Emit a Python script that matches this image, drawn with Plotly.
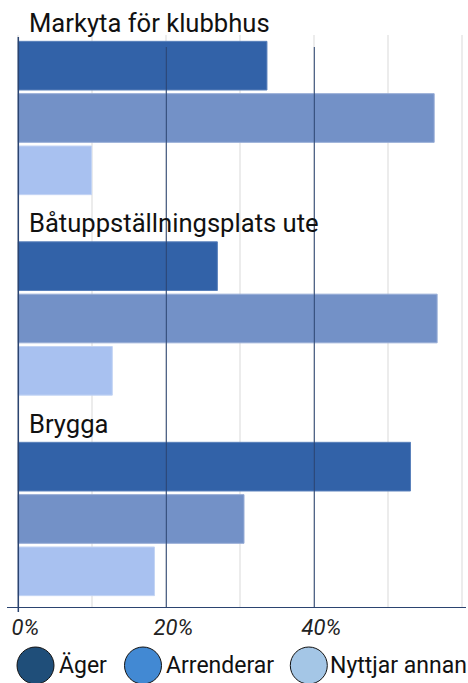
import plotly.graph_objects as go

categories = ["Markyta för klubbhus", "Båtuppställningsplats ute", "Brygga"]
series_names = ["Äger", "Arrenderar", "Nyttjar annan"]
ager = [33.6, 26.9, 53.0]
arrenderar = [56.2, 56.6, 30.5]
nyttjar = [9.9, 12.7, 18.4]
tick_vals = [0, 10, 20, 30, 40, 50, 60]
tick_text = ["0%", "", "20%", "", "40%", "", ""]

bar_colors = ["#3262A8", "#7391C7", "#A8C1F0"]
bar_edges = ["#5a81bb", "#97acd6", "#c3d4f4"]
legend_colors = ["#1F4E79", "#4289D3", "#A4C6E6"]

FONT = "Roboto"
W, H = 468, 683
ML, MR, MT, MB = 7, 2, 35, 76
PW = W - ML - MR
PH = H - MT - MB

fig = go.Figure()
for name, vals, col, edge in zip(series_names, [ager, arrenderar, nyttjar], bar_colors, bar_edges):
    fig.add_trace(go.Bar(
        y=categories, x=vals, name=name, orientation="h",
        marker=dict(color=col, line=dict(color=edge, width=1)),
        showlegend=False, hoverinfo="x+y",
    ))

# group titles
for c in categories:
    fig.add_annotation(
        x=0, y=c, xref="x", yref="y", text=c, showarrow=False,
        xanchor="left", yanchor="bottom", xshift=9, yshift=78,
        font=dict(family=FONT, size=25.6, color="#111111"),
    )

# dark vertical reference lines above bars
for v in [20, 40]:
    fig.add_shape(type="line", xref="x", yref="paper", x0=v, x1=v,
                  y0=0, y1=(H - MB - 47) / PH, layer="above",
                  line=dict(color="#2B4470", width=1))
# left axis line
fig.add_shape(type="line", xref="x", yref="paper", x0=0, x1=0,
              y0=-5 / PH, y1=(H - MB - 37) / PH, layer="above",
              line=dict(color="#2B4470", width=1.5))

# custom legend
leg_cx = [35.5, 143, 308.8]
leg_tx = [59, 166, 330]
leg_cy = 665.5
for name, col, cx, tx in zip(series_names, legend_colors, leg_cx, leg_tx):
    fig.add_shape(type="circle", xref="paper", yref="paper",
                  xsizemode="pixel", ysizemode="pixel",
                  xanchor=(cx - ML) / PW, yanchor=(H - MB - leg_cy) / PH,
                  x0=-18.5, x1=18.5, y0=-18.5, y1=18.5,
                  fillcolor=col, line=dict(color="#111111", width=1))
    fig.add_annotation(
        x=(tx - ML) / PW, y=(H - MB - leg_cy) / PH, xref="paper", yref="paper",
        text=name, showarrow=False, xanchor="left", yanchor="middle",
        xshift=-2, font=dict(family=FONT, size=23, color="#111111"),
    )

fig.update_layout(
    width=W, height=H,
    margin=dict(l=ML, r=MR, t=MT, b=MB),
    paper_bgcolor="white", plot_bgcolor="white",
    barmode="group", bargap=0.217, bargroupgap=0.07,
    showlegend=False,
    xaxis=dict(
        range=[-1.53, 60.5], tickvals=tick_vals, ticktext=tick_text,
        showgrid=True, gridcolor="#ececec", gridwidth=1.5, zeroline=False,
        showline=True, linecolor="#2B4470", linewidth=1.2,
        ticks="", ticklabelshift=7,
        tickfont=dict(family=FONT, size=22, color="#222222", style="italic"),
    ),
    yaxis=dict(
        type="category", categoryorder="array", categoryarray=categories,
        range=[2.439, -0.414], showticklabels=False, showgrid=False,
        zeroline=False, showline=False, ticks="",
    ),
)

fig.write_html(
    "out.html",
    config={"displayModeBar": False},
    post_script="document.body.style.margin='0';document.body.style.overflow='hidden';",
)
